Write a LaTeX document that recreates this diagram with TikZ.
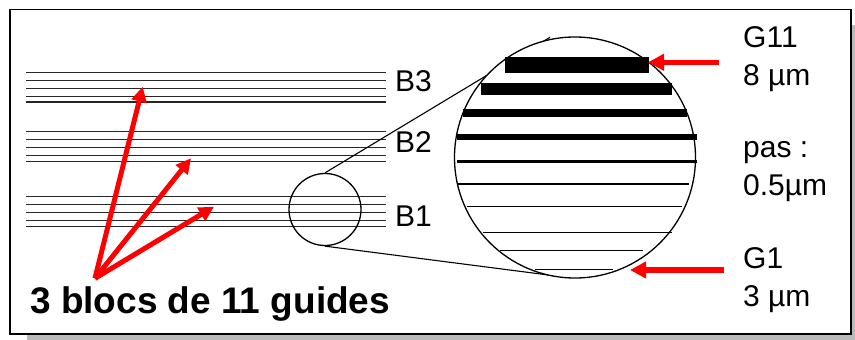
\documentclass[tikz,border=0pt]{standalone}
\usepackage{fontspec}
\setmainfont{Liberation Sans}
\usetikzlibrary{arrows.meta}
\begin{document}
\begin{tikzpicture}[x=1pt,y=-1pt,
  guide/.style={draw=black!85, line width=1.3pt},
  redarrow/.style={draw=red, line width=5.5pt, -{Triangle[length=16pt,width=16pt]}},
  redarrowsm/.style={draw=red, line width=5pt, -{Triangle[length=15pt,width=15pt]}},
  lbl/.style={anchor=base west, inner sep=0pt, font=\fontsize{30}{36}\selectfont},
  ring/.style={circle, draw=black, line width=1.3pt, inner sep=0pt}]
\useasboundingbox (0,0) rectangle (855,340);
% frame with shadow
\fill[black!27] (27,25) rectangle (855,340);
\draw[fill=white, line width=1.6pt] (10,9.3) rectangle (851,334);
% three blocks of guides
\foreach \y in {72.3,131.7,196.7}{
  \foreach \d in {0,8.1,16,23.9,29.8}{
    \draw[guide] (26,{\y+\d}) -- (386,{\y+\d});
  }
}
% small circle
\node[ring, minimum size=72pt] (zoom) at (325,209.5) {};
% tangent lines
\coordinate (tt) at (550,37.3);
\coordinate (tb) at (560,276.5);
\draw[line width=1.1pt] (zoom.north) -- (tt);
\draw[line width=1.1pt] (zoom.south) -- (tb);
% big circle
\node[ring, fill=white, minimum size=241pt] (lens) at (575,157.5) {};
% magnified guides
\fill[black] (505,57.3) rectangle (648.7,72.7);
\fill[black] (481,82.7) rectangle (672,95);
\fill[black] (463.3,109) rectangle (686.7,117.3);
\fill[black] (456.7,134) rectangle (696.7,139.7);
\fill[black] (456.7,159.5) rectangle (696.7,162.7);
\draw[line width=2pt] (458.3,184.3) -- (689.3,184.3);
\draw[line width=1.4pt] (466.7,206.7) -- (682.3,206.7);
\draw[line width=1.1pt] (483.3,232.7) -- (672.3,232.7);
\draw[line width=0.9pt] (500,250.7) -- (643.3,250.7);
\draw[line width=0.8pt] (535,269.3) -- (613.3,269.3);
% red arrows on the right
\coordinate (g11tail) at (719,62.3);
\coordinate (g11tip) at (648,62.3);
\coordinate (g1tail) at (724,270);
\coordinate (g1tip) at (630,270);
\draw[redarrow] (g11tail) -- (g11tip);
\draw[redarrow] (g1tail) -- (g1tip);
% red arrows on the left
\coordinate (src) at (95,278.3);
\coordinate (t3) at (142.7,86.7);
\coordinate (t2) at (191,158.3);
\coordinate (t1) at (214,206.7);
\draw[redarrowsm] (src) -- (t3);
\draw[redarrowsm] (src) -- (t2);
\draw[redarrowsm] (src) -- (t1);
% labels
\node[lbl] (b3) at (395,91.7) {B3};
\node[lbl] (b2) at (395,152.7) {B2};
\node[lbl] (b1) at (395,226.7) {B1};
\node[lbl] (g11) at (743,47.7) {G11};
\node[lbl] (g11w) at (743,85) {8 µm};
\node[lbl] (pas) at (743,157) {pas :};
\node[lbl] (pasv) at (743,195) {0.5µm};
\node[lbl] (g1) at (743,268) {G1};
\node[lbl] (g1w) at (743,306) {3 µm};
\node[lbl, font=\bfseries\fontsize{37}{44}\selectfont] (title) at (30,313) {3 blocs de 11 guides};
\end{tikzpicture}
\end{document}
